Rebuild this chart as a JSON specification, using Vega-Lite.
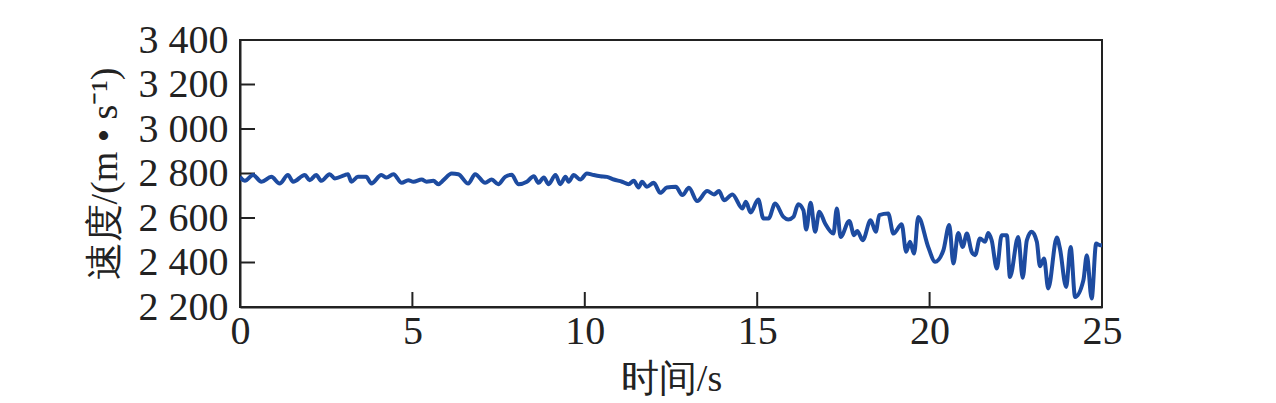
{
  "$schema": "https://vega.github.io/schema/vega-lite/v6.json",
  "width": 862,
  "height": 267,
  "autosize": "none",
  "padding": {"left": 240, "top": 40, "right": 174, "bottom": 96},
  "background": "white",
  "config": {
    "view": {"stroke": "#222222", "strokeWidth": 2},
    "axis": {
      "labelFont": "Liberation Serif",
      "titleFont": "Liberation Serif",
      "labelFontSize": 40,
      "titleFontSize": 38,
      "labelColor": "#222222",
      "titleColor": "#222222",
      "titleFontWeight": "normal",
      "domainColor": "#222222",
      "domainWidth": 2,
      "ticks": false,
      "tickSize": 0,
      "grid": false
    }
  },
  "datasets": {
    "speed": [
      {"t": 0, "v": 2785}, {"t": 0.14, "v": 2767}, {"t": 0.38, "v": 2793}, {"t": 0.62, "v": 2763},
      {"t": 0.91, "v": 2785}, {"t": 1.15, "v": 2755}, {"t": 1.39, "v": 2793}, {"t": 1.54, "v": 2763},
      {"t": 1.88, "v": 2793}, {"t": 2.02, "v": 2770}, {"t": 2.21, "v": 2793}, {"t": 2.36, "v": 2767},
      {"t": 2.6, "v": 2797}, {"t": 2.75, "v": 2778}, {"t": 3.04, "v": 2793}, {"t": 3.13, "v": 2797},
      {"t": 3.23, "v": 2763}, {"t": 3.42, "v": 2785}, {"t": 3.66, "v": 2785}, {"t": 3.81, "v": 2755},
      {"t": 4.1, "v": 2793}, {"t": 4.25, "v": 2782}, {"t": 4.45, "v": 2797}, {"t": 4.69, "v": 2758},
      {"t": 4.88, "v": 2770}, {"t": 5.03, "v": 2763}, {"t": 5.27, "v": 2773}, {"t": 5.41, "v": 2763},
      {"t": 5.61, "v": 2767}, {"t": 5.75, "v": 2752}, {"t": 5.9, "v": 2770}, {"t": 6.14, "v": 2800},
      {"t": 6.33, "v": 2797}, {"t": 6.62, "v": 2755}, {"t": 6.82, "v": 2797}, {"t": 7.11, "v": 2758},
      {"t": 7.3, "v": 2773}, {"t": 7.49, "v": 2752}, {"t": 7.69, "v": 2785}, {"t": 7.88, "v": 2794},
      {"t": 8.07, "v": 2752}, {"t": 8.32, "v": 2763}, {"t": 8.52, "v": 2788}, {"t": 8.66, "v": 2758},
      {"t": 8.81, "v": 2782}, {"t": 8.95, "v": 2752}, {"t": 9.15, "v": 2793}, {"t": 9.29, "v": 2752},
      {"t": 9.44, "v": 2785}, {"t": 9.53, "v": 2763}, {"t": 9.68, "v": 2793}, {"t": 9.87, "v": 2773},
      {"t": 10.06, "v": 2800}, {"t": 10.26, "v": 2793}, {"t": 10.45, "v": 2788}, {"t": 10.64, "v": 2785},
      {"t": 10.84, "v": 2773}, {"t": 11.08, "v": 2763}, {"t": 11.27, "v": 2752}, {"t": 11.42, "v": 2767},
      {"t": 11.56, "v": 2737}, {"t": 11.66, "v": 2763}, {"t": 11.8, "v": 2740}, {"t": 12.0, "v": 2758},
      {"t": 12.19, "v": 2713}, {"t": 12.38, "v": 2737}, {"t": 12.64, "v": 2740}, {"t": 12.83, "v": 2703},
      {"t": 13.02, "v": 2736}, {"t": 13.26, "v": 2676}, {"t": 13.55, "v": 2721}, {"t": 13.75, "v": 2706},
      {"t": 13.89, "v": 2721}, {"t": 14.04, "v": 2680}, {"t": 14.28, "v": 2706}, {"t": 14.57, "v": 2643},
      {"t": 14.67, "v": 2673}, {"t": 14.81, "v": 2625}, {"t": 15.03, "v": 2683}, {"t": 15.18, "v": 2598},
      {"t": 15.33, "v": 2598}, {"t": 15.52, "v": 2665}, {"t": 15.76, "v": 2605}, {"t": 15.9, "v": 2593},
      {"t": 16.05, "v": 2605}, {"t": 16.19, "v": 2662}, {"t": 16.34, "v": 2635}, {"t": 16.42, "v": 2548},
      {"t": 16.55, "v": 2668}, {"t": 16.68, "v": 2538}, {"t": 16.8, "v": 2628}, {"t": 16.97, "v": 2575},
      {"t": 17.21, "v": 2530}, {"t": 17.31, "v": 2643}, {"t": 17.42, "v": 2515}, {"t": 17.67, "v": 2587},
      {"t": 17.81, "v": 2523}, {"t": 17.9, "v": 2542}, {"t": 18.06, "v": 2500}, {"t": 18.29, "v": 2590},
      {"t": 18.44, "v": 2538}, {"t": 18.54, "v": 2613}, {"t": 18.8, "v": 2620}, {"t": 18.95, "v": 2530},
      {"t": 19.19, "v": 2572}, {"t": 19.32, "v": 2448}, {"t": 19.43, "v": 2493}, {"t": 19.55, "v": 2440},
      {"t": 19.67, "v": 2605}, {"t": 19.96, "v": 2470}, {"t": 20.16, "v": 2403}, {"t": 20.4, "v": 2455},
      {"t": 20.57, "v": 2568}, {"t": 20.69, "v": 2395}, {"t": 20.83, "v": 2533}, {"t": 20.96, "v": 2470},
      {"t": 21.08, "v": 2530}, {"t": 21.22, "v": 2448}, {"t": 21.32, "v": 2433}, {"t": 21.46, "v": 2508},
      {"t": 21.61, "v": 2493}, {"t": 21.7, "v": 2533}, {"t": 21.8, "v": 2500}, {"t": 21.95, "v": 2373},
      {"t": 22.09, "v": 2523}, {"t": 22.24, "v": 2523}, {"t": 22.33, "v": 2335}, {"t": 22.57, "v": 2515},
      {"t": 22.7, "v": 2332}, {"t": 22.82, "v": 2500}, {"t": 22.96, "v": 2538}, {"t": 23.11, "v": 2493},
      {"t": 23.2, "v": 2383}, {"t": 23.32, "v": 2418}, {"t": 23.44, "v": 2283}, {"t": 23.69, "v": 2512},
      {"t": 23.78, "v": 2463}, {"t": 23.96, "v": 2290}, {"t": 24.09, "v": 2470}, {"t": 24.22, "v": 2245},
      {"t": 24.46, "v": 2320}, {"t": 24.56, "v": 2433}, {"t": 24.7, "v": 2238}, {"t": 24.83, "v": 2485},
      {"t": 24.94, "v": 2478}, {"t": 25.0, "v": 2478}
    ],
    "xticks": [
      {"t": 5, "v": 2200}, {"t": 10, "v": 2200}, {"t": 15, "v": 2200}, {"t": 20, "v": 2200}
    ],
    "yticks": [
      {"t": 0, "v": 2400}, {"t": 0, "v": 2600}, {"t": 0, "v": 2800}, {"t": 0, "v": 3000}, {"t": 0, "v": 3200}
    ]
  },
  "encoding": {
    "x": {
      "field": "t",
      "type": "quantitative",
      "scale": {"domain": [0, 25], "nice": false, "zero": false},
      "axis": {
        "title": "时间/s",
        "values": [0, 5, 10, 15, 20, 25],
        "labelPadding": 4,
        "titlePadding": 9,
        "labelFlush": false
      }
    },
    "y": {
      "field": "v",
      "type": "quantitative",
      "scale": {"domain": [2200, 3400], "nice": false, "zero": false},
      "axis": {
        "title": "速度/(m • s⁻¹)",
        "values": [2200, 2400, 2600, 2800, 3000, 3200, 3400],
        "labelExpr": "replace(format(datum.value, ','), ',', ' ')",
        "labelPadding": 12,
        "titlePadding": 14,
        "labelFlush": false
      }
    }
  },
  "layer": [
    {
      "data": {"name": "xticks"},
      "mark": {"type": "tick", "orient": "vertical", "size": 30, "thickness": 2, "color": "#222222", "opacity": 1, "clip": true}
    },
    {
      "data": {"name": "yticks"},
      "mark": {"type": "tick", "orient": "horizontal", "size": 30, "thickness": 2, "color": "#222222", "opacity": 1, "clip": true}
    },
    {
      "data": {"name": "speed"},
      "mark": {"type": "line", "color": "#1d4ba0", "strokeWidth": 4, "strokeJoin": "round", "interpolate": "monotone", "clip": true}
    }
  ]
}
